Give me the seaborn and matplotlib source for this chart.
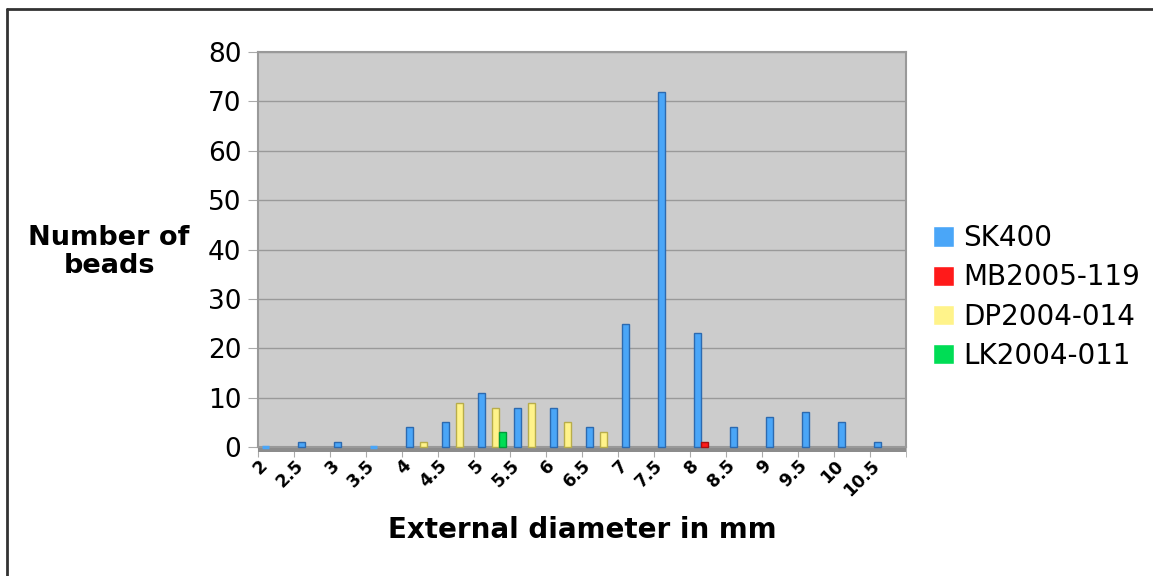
import numpy as np
import pandas as pd
import matplotlib
matplotlib.use("Agg")
import matplotlib.pyplot as plt
from matplotlib.patches import Rectangle
from matplotlib.lines import Line2D
import seaborn as sns

# ---- data ----
categories = ["2", "2.5", "3", "3.5", "4", "4.5", "5", "5.5", "6", "6.5",
              "7", "7.5", "8", "8.5", "9", "9.5", "10", "10.5"]
series_names = ["SK400", "MB2005-119", "DP2004-014", "LK2004-011"]
sk400 = [0, 1, 1, 0, 4, 5, 11, 8, 8, 4, 25, 72, 23, 4, 6, 7, 5, 1]
mb2005 = [np.nan] * 12 + [1] + [np.nan] * 5
dp2004 = [np.nan] * 4 + [1, 9, 8, 9, 5, 3] + [np.nan] * 8
lk2004 = [np.nan] * 6 + [3] + [np.nan] * 11
y_ticks = [0, 10, 20, 30, 40, 50, 60, 70, 80]
colors = ["#4aa6f8", "#ff1a1a", "#fff38a", "#00dd55"]
edge_colors = ["#2c6ab0", "#a80f0f", "#b8ad4a", "#009a3a"]

rows = []
for name, vals in zip(series_names, [sk400, mb2005, dp2004, lk2004]):
    for c, v in zip(categories, vals):
        rows.append({"diameter": c, "count": v, "sample": name})
df = pd.DataFrame(rows)

sns.set_style("white")
plt.rcParams["font.family"] = ["DejaVu Sans"]
plt.rcParams["text.color"] = "black"
plt.rcParams["xtick.color"] = "black"
plt.rcParams["ytick.color"] = "black"
plt.rcParams["axes.labelcolor"] = "black"

W, H = 1153, 576
fig = plt.figure(figsize=(W / 100, H / 100), dpi=100)
left, right, bottom, top = 258, 906, 447, 52
ax = fig.add_axes([left / W, 1 - bottom / H, (right - left) / W, (bottom - top) / H])

sns.barplot(data=df, x="diameter", y="count", hue="sample", order=categories,
            hue_order=series_names, palette=colors, saturation=1, width=0.76, gap=0,
            errorbar=None, ax=ax, zorder=3)

# darker edges give a slight 3D look
for i, cont in enumerate(ax.containers):
    for p in cont.patches:
        p.set_edgecolor(edge_colors[i])
        p.set_linewidth(1.0)
        p.set_clip_on(False)
        if p.get_height() == 0:
            p.set_linewidth(2.5)
            p.set_edgecolor(colors[i])

n = len(categories)
ax.set_facecolor("#cccccc")
ax.set_xlim(-0.5, n - 0.5)
ax.set_ylim(0, 80)
ax.set_yticks(y_ticks)
ax.set_yticklabels([str(t) for t in y_ticks], fontsize=19)
ax.yaxis.grid(True, color="#999999", linewidth=1.0, zorder=0)
ax.set_axisbelow(True)
ax.tick_params(axis="y", length=7, color="#aaaaaa", labelcolor="black", pad=5, left=True)

# x ticks: labels at the category tick marks (slot boundaries), as in the original
ax.set_xticks(np.arange(n) - 0.5)
ax.set_xticklabels(categories, fontsize=12.5, fontweight="bold", rotation=45,
                   ha="right", rotation_mode="anchor")
ax.tick_params(axis="x", length=7, color="#aaaaaa", pad=0, labelcolor="black", bottom=True)
ax.set_xticks([n - 0.5], minor=True)
ax.tick_params(axis="x", which="minor", length=7, color="#aaaaaa", bottom=True)

for s in ["left", "right", "top", "bottom"]:
    ax.spines[s].set_color("#999999")
    ax.spines[s].set_linewidth(1.5)

# floor strip
ax.add_patch(Rectangle((0, -0.012), 1.0, 0.014, transform=ax.transAxes,
                       facecolor="#8c8c8c", edgecolor="none", clip_on=False, zorder=2))

ax.set_xlabel("External diameter in mm", fontsize=20, fontweight="bold",
              labelpad=12, color="black")
ax.set_ylabel("")
fig.text(109 / W, 1 - 252 / H, "Number of\nbeads", fontsize=19.5, fontweight="bold",
         ha="center", va="center", linespacing=1.1, color="black")

# legend
handles, labels = ax.get_legend_handles_labels()
leg = ax.legend(handles, labels, loc="center left", bbox_to_anchor=(933 / W, 1 - 297 / H),
                bbox_transform=fig.transFigure, frameon=False, fontsize=20,
                handlelength=0.75, handleheight=0.75, handletextpad=0.35, labelspacing=0.4,
                borderaxespad=0, borderpad=0)
for t in leg.get_texts():
    t.set_color("black")

# figure border (left & top visible)
fig.add_artist(Line2D([7 / W, 7 / W], [0, 1 - 9 / H], transform=fig.transFigure,
                      color="#333333", linewidth=2))
fig.add_artist(Line2D([7 / W, 1], [1 - 9 / H, 1 - 9 / H], transform=fig.transFigure,
                      color="#333333", linewidth=2))

fig.savefig("out.png", dpi=100)
